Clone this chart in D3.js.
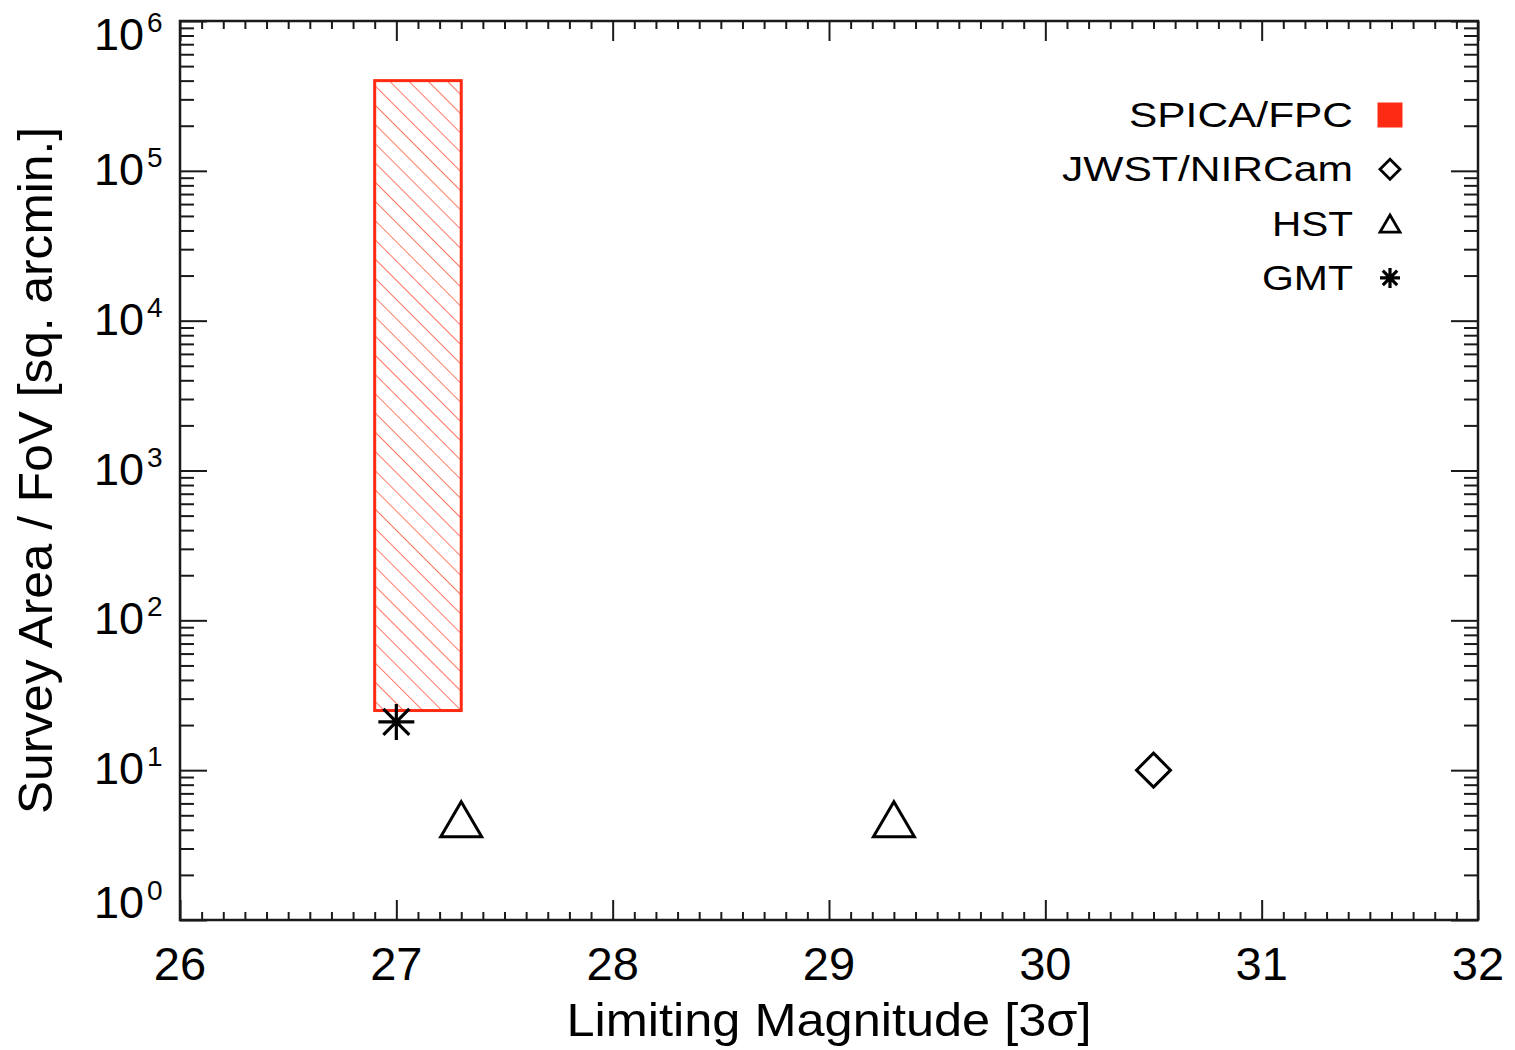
<!DOCTYPE html>
<html>
<head>
<meta charset="utf-8">
<script src="https://cdn.jsdelivr.net/npm/d3@7"></script>
<style>
  html, body { margin: 0; padding: 0; background: #fff; }
  svg { display: block; font-family: "Liberation Sans", Arial, Helvetica, sans-serif; }
</style>
</head>
<body>
<svg id="chart" width="1515" height="1050"></svg>
<script>
// ---- data ----
const xTickValues = [26, 27, 28, 29, 30, 31, 32];
const yTickExponents = [0, 1, 2, 3, 4, 5, 6];
const spicaMag = [26.9, 27.3];
const spicaArea = [25, 4e5];
const jwstMag = [30.5];
const jwstArea = [10];
const hstMag = [27.3, 29.3];
const hstArea = [4.7, 4.7];
const gmtMag = [27.0];
const gmtArea = [21];
const legendLabels = ["SPICA/FPC", "JWST/NIRCam", "HST", "GMT"];
const legendSymbols = ["square", "diamond", "triangle", "asterisk"];
const xTitle = "Limiting Magnitude [3σ]";
const yTitle = "Survey Area / FoV [sq. arcmin.]";

// ---- layout ----
const L = 180, R = 1478, T = 21, B = 920;
const svg = d3.select("#chart");
const x = d3.scaleLinear().domain([26, 32]).range([L, R]);
const y = d3.scaleLog().domain([1, 1e6]).range([B, T]);
const axisColor = "#1a1a1a";
const red = "#ff2a12";

// hatch pattern
const defs = svg.append("defs");
const pat = defs.append("pattern")
  .attr("id", "hatch")
  .attr("patternUnits", "userSpaceOnUse")
  .attr("width", 13.6).attr("height", 13.6)
  .attr("patternTransform", "rotate(-45)");
pat.append("line").attr("x1", 0).attr("y1", -2).attr("x2", 0).attr("y2", 16)
  .attr("stroke", "#ff6a55").attr("stroke-width", 1.8);

// SPICA box
svg.append("rect")
  .attr("x", x(spicaMag[0])).attr("y", y(spicaArea[1]))
  .attr("width", x(spicaMag[1]) - x(spicaMag[0]))
  .attr("height", y(spicaArea[0]) - y(spicaArea[1]))
  .attr("fill", "url(#hatch)")
  .attr("stroke", red).attr("stroke-width", 3);

// ---- axes via d3 ----
const xMinor = d3.range(260, 321).map(v => v / 10).filter(v => Math.abs(v - Math.round(v)) > 1e-6);
const yMajor = yTickExponents.map(e => Math.pow(10, e));
const yMinor = [];
for (let e = 0; e < 6; e++) for (let m = 2; m <= 9; m++) yMinor.push(m * Math.pow(10, e));

function styleAxis(g) {
  g.select(".domain").remove();
  g.selectAll(".tick line").attr("stroke", axisColor).attr("stroke-width", 2);
  g.selectAll(".tick text").remove();
}

// bottom
svg.append("g").attr("transform", `translate(0,${B})`)
  .call(d3.axisTop(x).tickValues(xTickValues).tickSize(20)).call(styleAxis);
svg.append("g").attr("transform", `translate(0,${B})`)
  .call(d3.axisTop(x).tickValues(xMinor).tickSize(8)).call(styleAxis);
// top
svg.append("g").attr("transform", `translate(0,${T})`)
  .call(d3.axisBottom(x).tickValues(xTickValues).tickSize(20)).call(styleAxis);
svg.append("g").attr("transform", `translate(0,${T})`)
  .call(d3.axisBottom(x).tickValues(xMinor).tickSize(8)).call(styleAxis);
// left
svg.append("g").attr("transform", `translate(${L},0)`)
  .call(d3.axisRight(y).tickValues(yMajor).tickSize(27)).call(styleAxis);
svg.append("g").attr("transform", `translate(${L},0)`)
  .call(d3.axisRight(y).tickValues(yMinor).tickSize(14)).call(styleAxis);
// right
svg.append("g").attr("transform", `translate(${R},0)`)
  .call(d3.axisLeft(y).tickValues(yMajor).tickSize(27)).call(styleAxis);
svg.append("g").attr("transform", `translate(${R},0)`)
  .call(d3.axisLeft(y).tickValues(yMinor).tickSize(14)).call(styleAxis);

// frame
svg.append("rect").attr("x", L).attr("y", T).attr("width", R - L).attr("height", B - T)
  .attr("fill", "none").attr("stroke", axisColor).attr("stroke-width", 2.5);

// x tick labels
svg.append("g").selectAll("text").data(xTickValues).join("text")
  .attr("x", d => x(d)).attr("y", 980)
  .attr("text-anchor", "middle").attr("font-size", 47).attr("fill", "#000")
  .text(d => d);

// y tick labels 10^n (edge labels pulled inside the frame as in the original)
const labelShift = d => d === 6 ? 29 : d === 0 ? -2 : 14;
const yl = svg.append("g").selectAll("g").data(yTickExponents).join("g")
  .attr("transform", d => `translate(0,${y(Math.pow(10, d)) + labelShift(d)})`);
yl.append("text").attr("x", 144).attr("y", 0).attr("text-anchor", "end")
  .attr("font-size", 45).attr("fill", "#000").text("10");
yl.append("text").attr("x", 147).attr("y", -18).attr("text-anchor", "start")
  .attr("font-size", 28).attr("fill", "#000").text(d => d);

// axis titles
svg.append("text").attr("x", (L + R) / 2).attr("y", 1036)
  .attr("text-anchor", "middle").attr("font-size", 47).attr("fill", "#000")
  .attr("textLength", 525).attr("lengthAdjust", "spacingAndGlyphs")
  .text(xTitle);
svg.append("text")
  .attr("transform", `translate(52,${(T + B) / 2}) rotate(-90)`)
  .attr("text-anchor", "middle").attr("font-size", 48).attr("fill", "#000")
  .attr("textLength", 687).attr("lengthAdjust", "spacingAndGlyphs")
  .text(yTitle);

// ---- markers ----
function symbolPath(type, s) {
  if (type === "diamond") return `M0,${-s}L${s},0L0,${s}L${-s},0Z`;
  if (type === "triangle") return `M${-s * 1.17},${s}L${s * 1.17},${s}L0,${-s}Z`;
  if (type === "asterisk") {
    const d = s * 0.72;
    return `M${-s},0L${s},0M0,${-s}L0,${s}M${-d},${-d}L${d},${d}M${-d},${d}L${d},${-d}`;
  }
  return `M${-s},${-s}H${s}V${s}H${-s}Z`;
}

svg.append("g").selectAll("path").data(jwstMag.map((m, i) => [m, jwstArea[i]])).join("path")
  .attr("transform", d => `translate(${x(d[0])},${y(d[1])})`)
  .attr("d", symbolPath("diamond", 17)).attr("fill", "none")
  .attr("stroke", "#000").attr("stroke-width", 3);
svg.append("g").selectAll("path").data(hstMag.map((m, i) => [m, hstArea[i]])).join("path")
  .attr("transform", d => `translate(${x(d[0])},${y(d[1])})`)
  .attr("d", symbolPath("triangle", 17.5)).attr("fill", "none")
  .attr("stroke", "#000").attr("stroke-width", 3).attr("stroke-linejoin", "miter");
svg.append("g").selectAll("path").data(gmtMag.map((m, i) => [m, gmtArea[i]])).join("path")
  .attr("transform", d => `translate(${x(d[0])},${y(d[1])})`)
  .attr("d", symbolPath("asterisk", 18)).attr("fill", "none")
  .attr("stroke", "#000").attr("stroke-width", 3.2);

// ---- legend ----
const legendLens = [224, 291, 81, 91];
const lg = svg.append("g").selectAll("g").data(legendLabels).join("g")
  .attr("transform", (d, i) => `translate(0,${115 + i * 54.3})`);
lg.append("text").attr("x", 1353).attr("y", 12).attr("text-anchor", "end")
  .attr("font-size", 35).attr("fill", "#000")
  .attr("textLength", (d, i) => legendLens[i]).attr("lengthAdjust", "spacingAndGlyphs")
  .text(d => d);
lg.append("path")
  .attr("transform", "translate(1390,0)")
  .attr("d", (d, i) => {
    const t = legendSymbols[i];
    return symbolPath(t, t === "square" ? 12.5 : t === "triangle" ? 8.5 : 10);
  })
  .attr("fill", (d, i) => legendSymbols[i] === "square" ? red : "none")
  .attr("stroke", (d, i) => legendSymbols[i] === "square" ? "none" : "#000")
  .attr("stroke-width", (d, i) => legendSymbols[i] === "asterisk" ? 3.2 : 2.8);
</script>
</body>
</html>
